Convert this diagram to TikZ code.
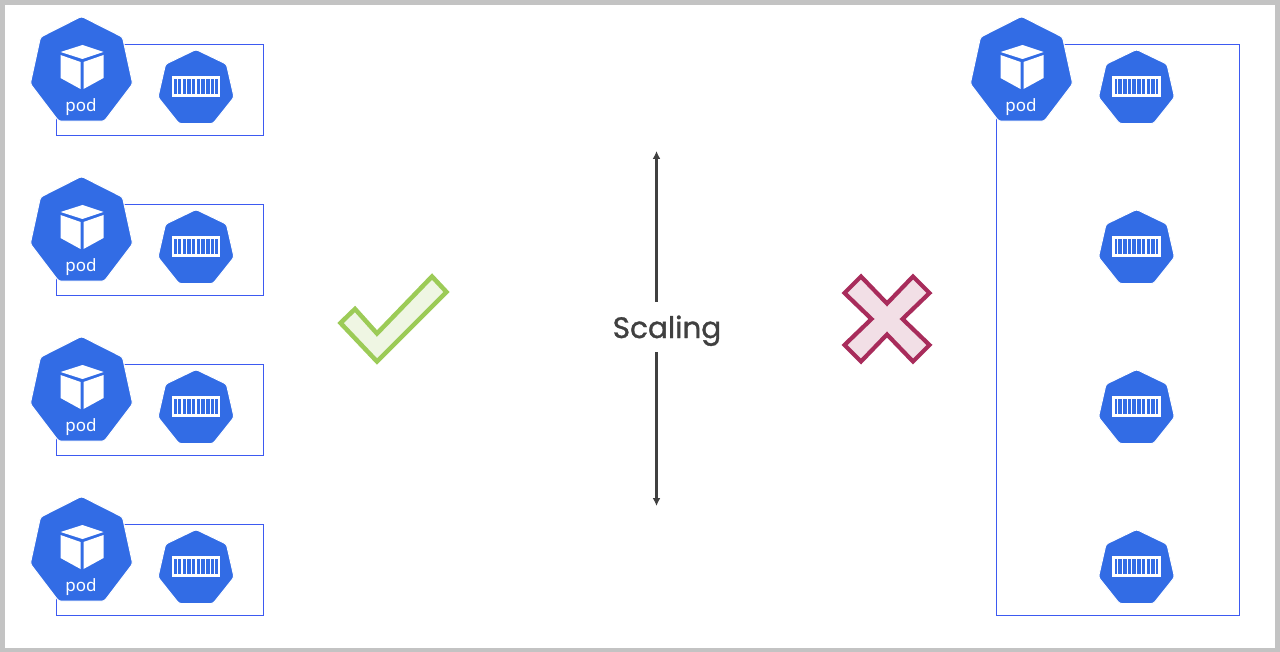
\documentclass[tikz,border=0pt]{standalone}
\usepackage{fontspec}
\setmainfont{Noto Sans}
\newfontfamily\scalingfont[FakeBold=1.2]{Poppins}
\usetikzlibrary{shapes.geometric,arrows.meta}
\definecolor{kubeblue}{HTML}{326CE5}
\definecolor{boxblue}{HTML}{3D5AF1}
\definecolor{framegray}{HTML}{C3C3C3}
\definecolor{arrowgray}{HTML}{404040}
\definecolor{tickgreen}{HTML}{9CCB57}
\definecolor{tickfill}{HTML}{EFF6E3}
\definecolor{crossred}{HTML}{A82C5B}
\definecolor{crossfill}{HTML}{F2DFE6}
\begin{document}
\begin{tikzpicture}[x=1pt, y=-1pt]

\tikzset{
    kube/.style={
        regular polygon,
        regular polygon sides=7,
        fill=kubeblue,
        draw=white,
        line width=1pt,
        rounded corners=2.5pt,
        inner sep=0pt
    },
    pod shape/.style={kube, minimum size=105pt, yscale=1.05, transform shape},
    crate shape/.style={kube, minimum size=78pt},
    pod box/.style={
        rectangle,
        draw=boxblue,
        line width=0.9pt,
        anchor=north west,
        inner sep=0pt
    },
    scaling arrow/.style={
        draw=arrowgray,
        line width=2.4pt,
        -{Latex[length=8pt, width=8pt]}
    },
    cube icon/.pic={
        \fill[white] (-21,-17) -- (-1,-10) -- (-1,17) -- (-21,6) -- cycle;
        \fill[white] (2,-10) -- (22,-17) -- (22,6) -- (2,17) -- cycle;
        \fill[white] (1,-27) -- (22,-20) -- (1,-13) -- (-21,-20) -- cycle;
    },
    crate icon/.pic={
        \draw[white, line width=2.2pt] (-23,-9) rectangle (23,9);
        \foreach \k in {-18.8,-14.1,...,18.8} {
            \draw[white, line width=1.2pt] (\k,-8) -- (\k,8);
        }
    }
}

\useasboundingbox (0,0) rectangle (1280,652);
\fill[framegray] (0,0) rectangle (1280,652);
\fill[white] (5,5) rectangle (1274.5,648);

\foreach \ypos [count=\i] in {44,204,364,524} {
    \node[pod box, minimum width=206.8pt, minimum height=91pt] (box\i) at (56.2,\ypos) {};
    \node[pod shape] (pod\i) at (81.5,\ypos+27.5) {};
    \pic at ([yshift=-0.5pt]pod\i.center) {cube icon};
    \node[text=white, font=\fontsize{17}{17}\selectfont, inner sep=0pt] (podtext\i) at (81,\ypos+63) {pod};
    \node[crate shape] (crate\i) at (196,\ypos+44.5) {};
    \pic at ([yshift=2pt]crate\i.center) {crate icon};
}

\node[pod box, minimum width=243pt, minimum height=571pt] (bigbox) at (996.4,44) {};
\node[pod shape] (bigpod) at (1021.5,71.5) {};
\pic at ([yshift=-0.5pt]bigpod.center) {cube icon};
\node[text=white, font=\fontsize{17}{17}\selectfont, inner sep=0pt] (bigpodtext) at (1021,107) {pod};

\foreach \ypos [count=\i] in {88,248,408,568} {
    \node[crate shape] (bigcrate\i) at (1136.5,\ypos+0.5) {};
    \pic at ([yshift=2pt]bigcrate\i.center) {crate icon};
}

\node[minimum height=50pt, inner sep=0pt, text=arrowgray,
    font=\scalingfont\fontsize{29.5}{29.5}\selectfont] (scaling) at (667,327) {\raisebox{-11pt}[0pt][0pt]{Scaling}};
\coordinate (uptip) at (656.5,151);
\coordinate (downtip) at (656.5,506);
\draw[scaling arrow] (uptip |- scaling.north) -- (uptip);
\draw[scaling arrow] (downtip |- scaling.south) -- (downtip);

\draw[draw=tickgreen, fill=tickfill, line width=4.5pt, miter limit=4]
    (340.5,323) -- (355,309) -- (377,333.5) -- (432,276.5) -- (446.5,292) -- (377,361.5) -- cycle;

\draw[draw=crossred, fill=crossfill, line width=4.2pt]
    (844.5,293) -- (861,276.5) -- (887,303.5) -- (913,276.5) -- (929.5,293) -- (902.5,319)
    -- (929.5,345) -- (913,361.5) -- (887,334.5) -- (861,361.5) -- (844.5,345) -- (871.5,319) -- cycle;

\end{tikzpicture}
\end{document}
